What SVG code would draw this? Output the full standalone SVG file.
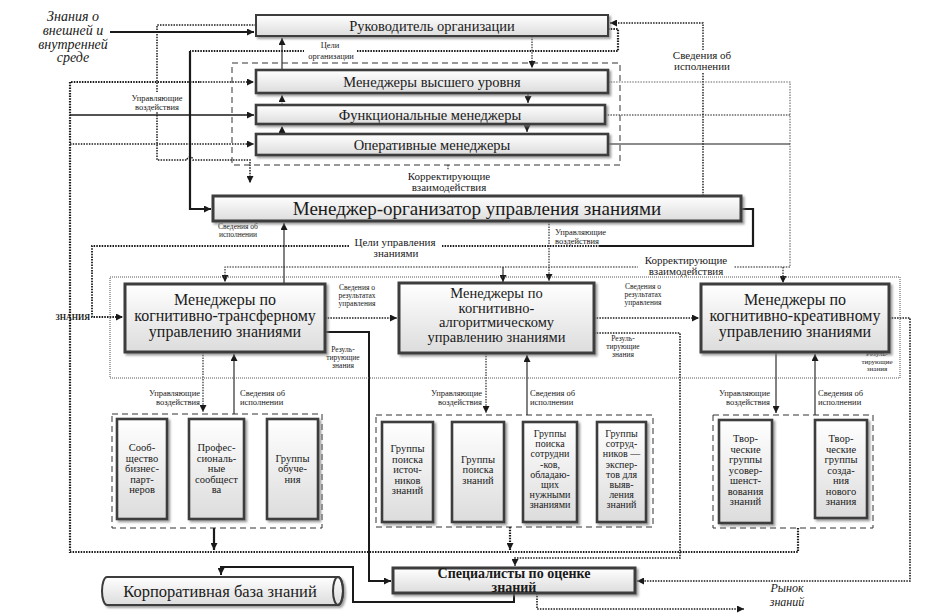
<svg xmlns="http://www.w3.org/2000/svg" width="936" height="613" viewBox="0 0 936 613" font-family="'Liberation Serif', 'DejaVu Serif', 'Times New Roman', serif">
<defs>
<linearGradient id="g" x1="0" y1="0" x2="0" y2="1"><stop offset="0" stop-color="#ffffff"/><stop offset="1" stop-color="#dcdcdc"/></linearGradient>
<filter id="sh" x="-10%" y="-10%" width="130%" height="140%"><feDropShadow dx="2" dy="2" stdDeviation="1.2" flood-color="#777" flood-opacity="0.7"/></filter>
<marker id="a" viewBox="0 0 10 10" refX="10" refY="5" markerWidth="8" markerHeight="7" markerUnits="userSpaceOnUse" orient="auto"><path d="M0,0 L10,5 L0,10 z" fill="#1a1a1a"/></marker>
<style>
.box{fill:url(#g);stroke:#3c3c3c;stroke-width:2.6;filter:url(#sh)}
.grp{fill:none;stroke:#333;stroke-width:1;stroke-dasharray:6 4}
.outer{fill:none;stroke:#555;stroke-width:1;stroke-dasharray:1 1}
.ln{fill:none;stroke:#1a1a1a;stroke-width:1.1}
.dt{stroke-dasharray:1.5 1.2}
.tk{stroke-width:2.2}
.ar{marker-end:url(#a)}
.bg{fill:#fff}
text{font-family:'Liberation Serif','DejaVu Serif','Times New Roman',serif;fill:#1a1a1a;text-anchor:middle}
.t14{font-size:14.5px}
.t18{font-size:19px}
.t16{font-size:16px}
.t11{font-size:10.5px}
.s{font-size:8.5px}
.xs{font-size:7.5px}
.m{font-size:11px}
.it{font-style:italic;font-size:14px}
.l{text-anchor:start}
.r{text-anchor:end}
</style>
</defs>
<rect width="936" height="613" fill="#fff"/>

<g id="connectors">
<path class="ln tk ar" style="stroke-width:1.8" d="M110,32 H254"/>
<path class="ln dt ar" style="stroke-width:1.5" d="M256,25 H157 V160 H187 A3,3 0 0 1 193,160 H250 V183"/>
<path class="ln dt tk" d="M608,29 H618 V51 H190"/>
<path class="ln tk ar" d="M190,51 V209 H211"/>
<path class="ln dt ar" style="stroke-width:1.4" d="M703,196 V23 H610"/>
<path class="ln dt" style="stroke:#666" d="M608,82 H790 V267"/>
<path class="ln dt" d="M605,115 H790"/>
<path class="ln" d="M608,144 H790"/>
<path class="ln dt ar" d="M790,267 H225 V282"/>
<path class="ln ar" d="M503,267 V282"/>
<path class="ln dt ar" d="M783,267 V283"/>
<path class="ln dt tk" d="M798,528 V552 H70 V82 H200"/>
<path class="ln dt ar" style="stroke-width:1.6" d="M200,82 H254"/>
<path class="ln ar" style="stroke-width:1.6" d="M70,115 H254"/>
<path class="ln dt ar" style="stroke-width:1.6" d="M70,144 H254"/>
<path class="ln tk ar" d="M214,528 V550"/>
<path class="ln dt tk ar" d="M510,527 V550"/>
<path class="ln dt ar" d="M532,36 V68"/>
<path class="ln ar" d="M528,93 V103"/>
<path class="ln ar" d="M527,124 V132"/>
<path class="ln dt ar" d="M282,134 V126"/>
<path class="ln dt ar" d="M282,105 V95"/>
<path class="ln ar" d="M282,70 V38"/>
<path class="ln dt ar" d="M448,165 V194"/>
<path class="ln tk" d="M741,209 H753 V246 H600"/>
<path class="ln dt tk ar" style="stroke-width:1.8" d="M600,246 H92 V317 H123"/>
<path class="ln dt ar" d="M549,221 V281"/>
<path class="ln ar" d="M284,284 V223"/>
<path class="ln dt ar" style="stroke-width:1.5" d="M325,318 H397"/>
<path class="ln dt ar" style="stroke-width:1.5" d="M594,318 H699"/>
<path class="ln tk ar" style="stroke-width:2" d="M325,332 H369 V581 H391"/>
<path class="ln dt ar" style="stroke-width:1.6" d="M594,333 H680 V558 H515 V566"/>
<path class="ln dt ar" style="stroke-width:1.6" d="M889,318 H910 V581 H637"/>
<path class="ln dt ar" d="M203,352 V412"/>
<path class="ln ar" d="M234,414 V354"/>
<path class="ln dt ar" d="M486,353 V413"/>
<path class="ln ar" d="M527,415 V355"/>
<path class="ln ar" d="M776,352 V413"/>
<path class="ln ar" d="M815,415 V354"/>
<path class="ln tk ar" style="stroke-width:2" d="M514,593 V602 H353 V567 H221 V575"/>
<path class="ln dt ar" style="stroke-width:1.6" d="M537,593 V609 H744"/>

<rect class="bg" x="304" y="40" width="53" height="22"/>
<text class="s" x="330" y="48">Цели</text>
<text class="s" x="331" y="59">организации</text>
<rect class="bg" x="668" y="50" width="70" height="22"/>
<text class="m" x="702" y="59">Сведения об</text>
<text class="m" x="702" y="70">исполнении</text>
<rect class="bg" x="127" y="92" width="60" height="20"/>
<text class="s" x="157" y="101">Управляющие</text>
<text class="s" x="157" y="110">воздействия</text>
<rect class="bg" x="402" y="170" width="94" height="24"/>
<text class="m" x="449" y="180">Корректирующие</text>
<text class="m" x="449" y="191">взаимодействия</text>
<text class="xs" x="238" y="229">Сведения об</text>
<text class="xs" x="238" y="237">исполнении</text>
<rect class="bg" x="350" y="236" width="92" height="22"/>
<text class="m" x="395" y="246">Цели управления</text>
<text class="m" x="396" y="257">знаниями</text>
<text class="s l" x="555" y="235">Управляющие</text>
<text class="s l" x="555" y="244">воздействия</text>
<rect class="bg" x="638" y="256" width="96" height="21"/>
<text class="m" x="686" y="264">Корректирующие</text>
<text class="m" x="686" y="275">взаимодействия</text>
<text class="xs" x="357" y="290">Сведения о</text>
<text class="xs" x="357" y="298">результатах</text>
<text class="xs" x="357" y="306">управления</text>
<text class="xs" x="643" y="289">Сведения о</text>
<text class="xs" x="643" y="297">результатах</text>
<text class="xs" x="643" y="305">управления</text>
<text class="xs" x="343" y="352">Резуль-</text>
<text class="xs" x="343" y="360">тирующие</text>
<text class="xs" x="343" y="368">знания</text>
<text class="xs" x="623" y="341">Резуль-</text>
<text class="xs" x="623" y="349">тирующие</text>
<text class="xs" x="623" y="357">знания</text>
<text class="xs" style="font-size:7px" x="877" y="356">Резуль-</text>
<text class="xs" style="font-size:7px" x="877" y="363.5">тирующие</text>
<text class="xs" style="font-size:7px" x="877" y="371">знания</text>
<text style="font-size:8px;font-weight:bold" class="r" x="90" y="320">ЗНАНИЯ</text>
<text class="s r" x="200" y="396">Управляющие</text>
<text class="s r" x="200" y="405">воздействия</text>
<text class="s l" x="240" y="396">Сведения об</text>
<text class="s l" x="240" y="405">исполнении</text>
<text class="s r" x="482" y="396">Управляющие</text>
<text class="s r" x="482" y="405">воздействия</text>
<text class="s l" x="530" y="396">Сведения об</text>
<text class="s l" x="530" y="405">исполнении</text>
<text class="s r" x="770" y="396">Управляющие</text>
<text class="s r" x="770" y="405">воздействия</text>
<text class="s l" x="818" y="396">Сведения об</text>
<text class="s l" x="818" y="405">исполнении</text>
<text class="it" x="73" y="21">Знания о</text>
<text class="it" x="73" y="35">внешней и</text>
<text class="it" x="73" y="48.5">внутренней</text>
<text class="it" x="73" y="62">среде</text>
<text class="it" style="font-size:12px" x="787" y="592">Рынок</text>
<text class="it" style="font-size:12px" x="787" y="606">знаний</text>
</g>

<g id="top-group"><rect class="grp" x="232" y="63" width="388" height="102"/></g>
<g id="n-ruk"><rect class="box" style="stroke-width:2" x="256" y="15" width="352" height="21"/><text class="t14" x="432" y="30.5">Руководитель организации</text></g>
<g id="n-vys"><rect class="box" x="256" y="70" width="352" height="23"/><text class="t14" x="432" y="86.5">Менеджеры высшего уровня</text></g>
<g id="n-func"><rect class="box" x="256" y="105" width="349" height="19"/><text class="t14" x="430" y="119.5">Функциональные менеджеры</text></g>
<g id="n-oper"><rect class="box" x="256" y="134" width="352" height="21"/><text class="t14" x="432" y="149.5">Оперативные менеджеры</text></g>
<g id="n-org"><rect class="box" style="stroke-width:3" x="213" y="196" width="528" height="25"/><text class="t18" x="477" y="215">Менеджер-организатор управления знаниями</text></g>

<g id="managers-area"><rect class="outer" x="110" y="277" width="790" height="101"/></g>
<g id="n-tr"><rect class="box" style="stroke-width:3" x="125" y="284" width="200" height="68"/><text class="t16" x="225" y="305">Менеджеры по</text><text class="t16" x="225" y="321">когнитивно-трансферному</text><text class="t16" x="225" y="337">управлению знаниями</text></g>
<g id="n-alg"><rect class="box" style="stroke-width:3" x="399" y="283" width="195" height="70"/><text class="t16" style="font-size:14.5px" x="496.5" y="298">Менеджеры по</text><text class="t16" style="font-size:14.5px" x="496.5" y="312.5">когнитивно-</text><text class="t16" style="font-size:14.5px" x="496.5" y="327">алгоритмическому</text><text class="t16" style="font-size:14.5px" x="496.5" y="341.5">управлению знаниями</text></g>
<g id="n-kr"><rect class="box" style="stroke-width:3" x="701" y="284" width="188" height="68"/><text class="t16" x="795" y="305">Менеджеры по</text><text class="t16" x="795" y="321">когнитивно-креативному</text><text class="t16" x="795" y="337">управлению знаниями</text></g>

<g id="group1"><rect class="grp" x="112" y="414" width="210" height="114"/></g>
<g id="group2"><rect class="grp" x="376" y="415" width="277" height="112"/></g>
<g id="group3"><rect class="grp" x="713" y="415" width="160" height="113"/></g>

<g id="b1"><rect class="box" x="117" y="419" width="50" height="100"/><text class="t11"><tspan x="142" y="451">Сооб-</tspan><tspan x="142" y="461.5">щество</tspan><tspan x="142" y="472">бизнес-</tspan><tspan x="142" y="482.5">парт-</tspan><tspan x="142" y="493">неров</tspan></text></g>
<g id="b2"><rect class="box" x="189" y="419" width="55" height="100"/><text class="t11"><tspan x="216.5" y="451">Профес-</tspan><tspan x="216.5" y="461.5">сиональ-</tspan><tspan x="216.5" y="472">ные</tspan><tspan x="216.5" y="482.5">сообщест</tspan><tspan x="216.5" y="493">ва</tspan></text></g>
<g id="b3"><rect class="box" x="267" y="419" width="51" height="100"/><text class="t11"><tspan x="292.5" y="461.5">Группы</tspan><tspan x="292.5" y="472">обуче-</tspan><tspan x="292.5" y="482.5">ния</tspan></text></g>
<g id="c1"><rect class="box" x="382" y="422" width="51" height="100"/><text class="t11"><tspan x="407.5" y="452">Группы</tspan><tspan x="407.5" y="462.5">поиска</tspan><tspan x="407.5" y="473">источ-</tspan><tspan x="407.5" y="483.5">ников</tspan><tspan x="407.5" y="494">знаний</tspan></text></g>
<g id="c2"><rect class="box" x="452" y="422" width="52" height="100"/><text class="t11"><tspan x="478" y="462.5">Группы</tspan><tspan x="478" y="473">поиска</tspan><tspan x="478" y="483.5">знаний</tspan></text></g>
<g id="c3"><rect class="box" x="523" y="422" width="54" height="100"/><text class="t11" style="font-size:10px"><tspan x="550" y="437">Группы</tspan><tspan x="550" y="447.2">поиска</tspan><tspan x="550" y="457.4">сотрудни</tspan><tspan x="550" y="467.6">-ков,</tspan><tspan x="550" y="477.8">обладаю-</tspan><tspan x="550" y="488">щих</tspan><tspan x="550" y="498.2">нужными</tspan><tspan x="550" y="508.4">знаниями</tspan></text></g>
<g id="c4"><rect class="box" x="597" y="422" width="49" height="100"/><text class="t11" style="font-size:10px"><tspan x="621.5" y="437">Группы</tspan><tspan x="621.5" y="447.2">сотруд-</tspan><tspan x="621.5" y="457.4">ников —</tspan><tspan x="621.5" y="467.6">экспер-</tspan><tspan x="621.5" y="477.8">тов для</tspan><tspan x="621.5" y="488">выяв-</tspan><tspan x="621.5" y="498.2">ления</tspan><tspan x="621.5" y="508.4">знаний</tspan></text></g>
<g id="d1"><rect class="box" x="719" y="420" width="53" height="103"/><text class="t11"><tspan x="745.5" y="442">Твор-</tspan><tspan x="745.5" y="452.5">ческие</tspan><tspan x="745.5" y="463">группы</tspan><tspan x="745.5" y="473.5">усовер-</tspan><tspan x="745.5" y="484">шенст-</tspan><tspan x="745.5" y="494.5">вования</tspan><tspan x="745.5" y="505">знаний</tspan></text></g>
<g id="d2"><rect class="box" x="815" y="420" width="52" height="98"/><text class="t11"><tspan x="841" y="442">Твор-</tspan><tspan x="841" y="452.5">ческие</tspan><tspan x="841" y="463">группы</tspan><tspan x="841" y="473.5">созда-</tspan><tspan x="841" y="484">ния</tspan><tspan x="841" y="494.5">нового</tspan><tspan x="841" y="505">знания</tspan></text></g>

<g id="n-spec"><rect class="box" style="stroke-width:3" x="393" y="568" width="242" height="25"/><text style="font-size:14px;font-weight:bold" x="514" y="578">Специалисты по оценке</text><text style="font-size:14px;font-weight:bold" x="514" y="592">знаний</text></g>
<g id="n-kb"><path class="box" style="stroke-width:2" d="M107,577 H338 A5,14 0 0 1 338,605 H107 A5,14 0 0 1 107,577 Z"/><ellipse cx="338" cy="591" rx="5" ry="14" fill="none" stroke="#3c3c3c" stroke-width="2"/><text style="font-size:16.5px" x="220" y="597">Корпоративная база знаний</text></g>
</svg>
